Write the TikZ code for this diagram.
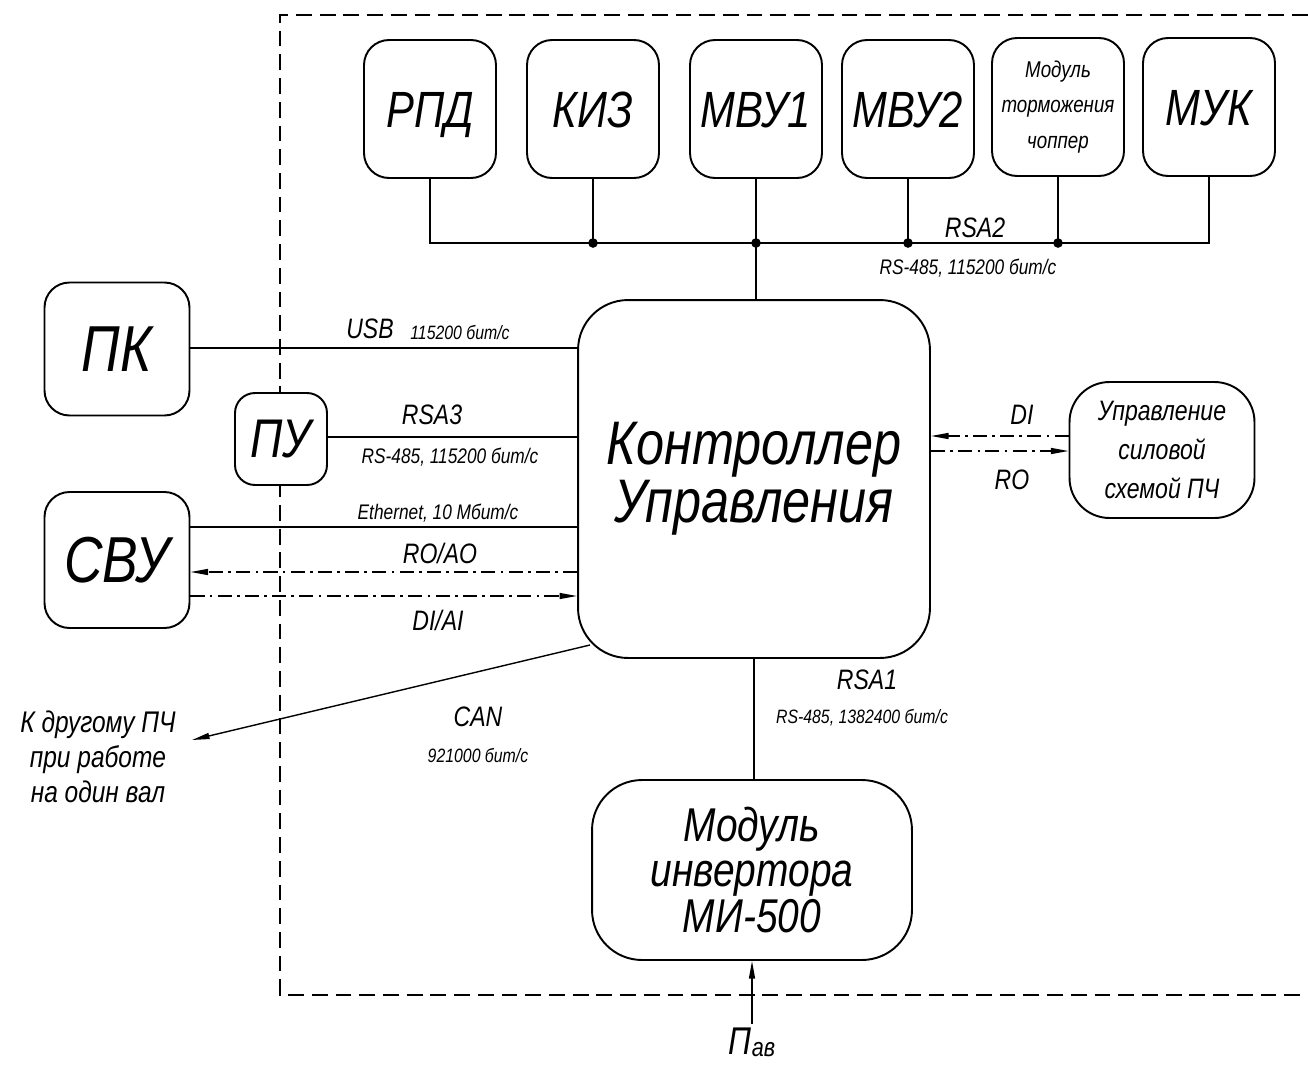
\documentclass[tikz,border=0pt]{standalone}
\usepackage{fontspec}
\newfontfamily\gost{Liberation Sans}[FakeStretch=0.82]
\usetikzlibrary{arrows.meta}

\begin{document}
\begin{tikzpicture}[x=0.02cm, y=-0.02cm, font=\gost\itshape,
    box/.style={draw, line width=1.1pt, rounded corners=0.5cm, fill=white, align=center, inner sep=1pt},
    topbox/.style={box, minimum width=2.64cm, minimum height=2.76cm, text height=21pt, text depth=0pt, font=\gost\itshape\fontsize{29}{32}\selectfont},
    conn/.style={line width=0.6pt},
    sig/.style={line width=0.8pt, dash pattern=on 8pt off 3pt on 1.5pt off 3pt, -{Triangle[length=10pt,width=3.4pt]}},
    dot/.style={circle, fill, inner sep=0pt, minimum size=5.5pt},
    lbl/.style={font=\gost\itshape\fontsize{16}{18}\selectfont},
    sml/.style={font=\gost\itshape\fontsize{12}{14}\selectfont}]
    \useasboundingbox (0,0) rectangle (1308,1065);

    % boundary of the converter
    \draw[line width=0.9pt, dash pattern=on 9pt off 4.5pt](1308,15)--(280,15)--(280,995)--(1308,995);

    \node[topbox] (rpd) at (430,109) {РПД};
    \node[topbox] (kiz) at (593,109) {КИЗ};
    \node[topbox] (mvu1) at (756,109) {МВУ1};
    \node[topbox] (mvu2) at (908,109) {МВУ2};
    \node[box, minimum width=2.64cm, minimum height=2.76cm, font=\gost\itshape\fontsize{13}{20}\selectfont] (chop) at (1058,107) {Модуль\\торможения\\чоппер};
    \node[topbox] (muk) at (1209,107) {МУК};

    \node[box, minimum width=7.04cm, minimum height=7.16cm, rounded corners=1cm, font=\gost\itshape\fontsize{35}{33}\selectfont] (ctrl) at (754,479) {Контроллер\\Управления};

    \node[box, minimum width=2.9cm, minimum height=2.66cm, font=\gost\itshape\fontsize{37}{40}\selectfont] (pk) at (117,349) {ПК};
    \node[box, minimum width=1.84cm, minimum height=1.84cm, rounded corners=0.4cm, font=\gost\itshape\fontsize{31}{34}\selectfont] (pu) at (281,439) {ПУ};
    \node[box, minimum width=2.9cm, minimum height=2.72cm, font=\gost\itshape\fontsize{37}{40}\selectfont] (svu) at (117,560) {СВУ};
    \node[box, minimum width=3.7cm, minimum height=2.72cm, rounded corners=0.8cm, font=\gost\itshape\fontsize{16}{22}\selectfont] (upr) at (1162,450) {Управление\\силовой\\схемой ПЧ};
    \node[box, minimum width=6.4cm, minimum height=3.6cm, rounded corners=1cm, font=\gost\itshape\fontsize{27}{26}\selectfont] (inv) at (752,870) {Модуль\\инвертора\\МИ-500};

    \node[align=center, font=\gost\itshape\fontsize{17}{20}\selectfont] (other) at (98,757) {К другому ПЧ\\при работе\\на один вал};
    \node[font=\gost\itshape\fontsize{22}{24}\selectfont, inner sep=2pt] (pav) at (752,1042) {П\raisebox{-0.1ex}{\fontsize{15}{17}\selectfont ав}};

    % RSA2 bus
    \coordinate (bus) at (756,243);
    \draw[conn](rpd.south) |- (bus) -| (muk.south);
    \foreach \n in {kiz,mvu1,mvu2,chop}
        \draw[conn](\n.south)--(\n.south |- bus) node[dot]{};
    \draw[conn](bus)--(bus |- ctrl.north);
    \node[lbl] at (975,228) {RSA2};
    \node[sml] at (968,268) {RS-485, 115200 бит/с};

    \draw[conn](pk.east |- 0,348)--(ctrl.west |- 0,348);
    \node[lbl] at (370,329) {USB};
    \node[font=\gost\itshape\fontsize{11}{12}\selectfont] at (460,333) {115200 бит/с};

    \draw[conn](pu.east |- 0,437)--(ctrl.west |- 0,437);
    \node[lbl] at (432,415) {RSA3};
    \node[sml] at (450,457) {RS-485, 115200 бит/с};

    \draw[conn](svu.east |- 0,527)--(ctrl.west |- 0,527);
    \node[sml] at (438,513) {Ethernet, 10 Мбит/с};
    \draw[sig](ctrl.west |- 0,572)--(svu.east |- 0,572);
    \node[lbl] at (440,553) {RO/AO};
    \draw[sig](svu.east |- 0,596)--(ctrl.west |- 0,596);
    \node[lbl] at (438,620) {DI/AI};

    \draw[sig](upr.west |- 0,436)--(ctrl.east |- 0,436);
    \node[lbl] at (1022,415) {DI};
    \draw[sig](ctrl.east |- 0,451)--(upr.west |- 0,451);
    \node[lbl] at (1012,480) {RO};

    % CAN
    \coordinate (canS) at (590,645);
    \coordinate (canE) at (192,740);
    \draw[conn, line width=0.8pt, -{Triangle[length=10pt,width=3.4pt]}](canS)--(canE);
    \node[lbl] at (478,717) {CAN};
    \node[font=\gost\itshape\fontsize{11}{12}\selectfont] at (478,755) {921000 бит/с};

    % RSA1
    \draw[conn](ctrl.south)--(inv.north -| ctrl.south);
    \node[lbl] at (867,680) {RSA1};
    \node[font=\gost\itshape\fontsize{11}{12}\selectfont] at (862,718) {RS-485, 1382400 бит/с};

    \draw[conn, line width=0.8pt, -{Triangle[length=10pt,width=3.4pt]}](pav.north)--(inv.south);
\end{tikzpicture}
\end{document}
